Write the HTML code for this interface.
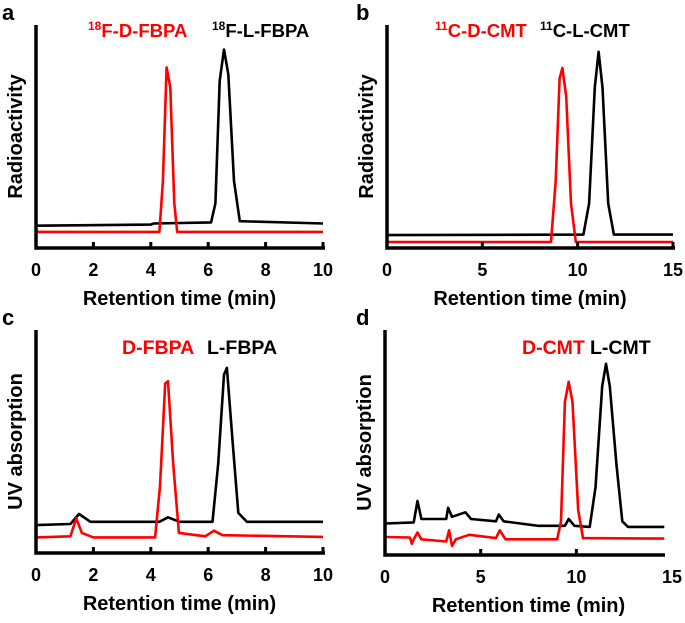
<!DOCTYPE html>
<html><head><meta charset="utf-8"><style>
body{margin:0;background:#fff}
svg text{font-family:"Liberation Sans",Arial,sans-serif;font-weight:bold}
</style></head><body>
<svg id="fig" width="685" height="618" viewBox="0 0 685 618" xmlns="http://www.w3.org/2000/svg"></svg>
<script>
// Panel data: [time(min), signal(arb. 0-100)]
const aBlack=[[0,10],[4,10.5],[4.1,11],[6.1,11.5],[6.25,20],[6.4,75],[6.55,89],[6.7,78],[6.9,30],[7.1,12],[10,11]];
const aRed=[[0,7.2],[4.3,7.2],[4.42,30],[4.55,81],[4.68,72],[4.82,20],[4.92,7.2],[10,7.2]];
const bBlack=[[0,5.8],[10.3,6],[10.6,20],[10.9,72],[11.1,88],[11.3,72],[11.6,20],[11.9,6],[15,6]];
const bRed=[[0,2.7],[8.6,2.7],[8.85,30],[9.05,76],[9.2,80.7],[9.4,68],[9.65,20],[9.9,2.7],[15,2.7]];
const cBlack=[[0,12.5],[1.2,13],[1.5,17.5],[1.9,14],[4.3,14],[4.6,16],[5,14],[6.15,14],[6.35,40],[6.55,80],[6.65,83],[6.85,50],[7.05,18],[7.35,14],[10,14]];
const cRed=[[0,7],[1.2,7.5],[1.4,15.5],[1.6,9],[2,7],[4.15,7],[4.32,30],[4.5,76],[4.6,77],[4.78,40],[4.98,9],[5.9,7.5],[6.2,10],[6.5,8],[10,7.2]];
const dBlack=[[0,14],[1.5,14.5],[1.7,24],[1.9,16],[3.2,16],[3.3,21],[3.5,17],[4.2,19],[4.5,16],[5.8,15],[5.95,18],[6.2,15],[8,13],[9.4,13],[9.6,16],[9.9,13],[10.7,12.5],[11.0,30],[11.35,75],[11.55,85],[11.75,75],[12.1,40],[12.4,15],[12.7,12.5],[14.6,12.5]];
const dRed=[[0,8],[1.3,7.8],[1.4,5],[1.5,7],[1.7,10],[1.9,7],[3.2,6],[3.35,11],[3.5,4],[3.7,7],[4.4,9],[5.8,7.5],[6,11],[6.3,7],[9,7],[9.2,15],[9.4,68],[9.6,77],[9.8,68],[10.1,20],[10.35,7.5],[14.6,7.3]];
const ticksAC=[0,2,4,6,8,10];
const ticksBD=[0,5,10,15];

const svg=document.getElementById('fig');
const NS='http://www.w3.org/2000/svg';
function mk(tag,attrs,parent){const e=document.createElementNS(NS,tag);for(const k in attrs)e.setAttribute(k,attrs[k]);(parent||svg).appendChild(e);return e;}

const panels=[
 {id:'a',x0:36,x1:323,xend:325,top:25,bot:248,xmax:10,ticks:ticksAC,black:aBlack,red:aRed,ytitle:'Radioactivity',redLab:['18','F-D-FBPA'],blackLab:['18','F-L-FBPA'],redX:88,blackX:212,legY:37,letterX:2,fs:18.5},
 {id:'b',x0:387,x1:673,xend:675,top:25,bot:248,xmax:15,ticks:ticksBD,black:bBlack,red:bRed,ytitle:'Radioactivity',redLab:['11','C-D-CMT'],blackLab:['11','C-L-CMT'],redX:435,blackX:540,legY:37,letterX:356,fs:18.5},
 {id:'c',x0:36,x1:323,xend:325,top:330,bot:553,xmax:10,ticks:ticksAC,black:cBlack,red:cRed,ytitle:'UV absorption',redLab:['','D-FBPA'],blackLab:['','L-FBPA'],redX:122,blackX:207,legY:354,letterX:2,fs:19.5},
 {id:'d',x0:385,x1:672,xend:665,top:330,bot:555,xmax:15,ticks:ticksBD,black:dBlack,red:dRed,ytitle:'UV absorption',redLab:['','D-CMT'],blackLab:['','L-CMT'],redX:522,blackX:590,legY:354,letterX:356,fs:19.5}
];

panels.forEach(p=>{
 const g=mk('g',{});
 
 
 const xs=t=>p.x0+t/p.xmax*(p.x1-p.x0);
 const ys=v=>p.bot-v/100*(p.bot-p.top);
 const L=mk('text',{x:p.letterX,y:p.top-5,'font-size':22},g);L.textContent=p.id;
 
 
 [['black','#000',p.black],['red','#ff0000',p.red]].forEach(([nm,col,data])=>{
  const pl=mk('polyline',{points:data.map(d=>xs(d[0]).toFixed(1)+','+ys(d[1]).toFixed(1)).join(' '),fill:'none',stroke:col,'stroke-width':2.6,'stroke-linejoin':'round'},g);
  
  
 });
 const ax=mk('path',{d:`M${p.x0},${p.top} V${p.bot} H${p.xend}`,fill:'none',stroke:'#000','stroke-width':3.5},g);
 
 
 p.ticks.forEach(t=>{
  const x=xs(t);
  if(t>0 && x<=p.xend+1){const tk=mk('line',{x1:x,x2:x,y1:p.bot,y2:p.bot-6,stroke:'#000','stroke-width':3},g);
   
   }
  const tl=mk('text',{x:x,y:p.bot+28,'font-size':18,'text-anchor':'middle'},g);tl.textContent=t;
  
  
 });
 const xt=mk('text',{x:(p.x0+p.x1)/2,y:p.bot+57,'font-size':20,'text-anchor':'middle'},g);xt.textContent='Retention time (min)';
 
 
 const cy=(p.top+p.bot)/2;
 const yt=mk('text',{x:p.x0-14,y:cy,'font-size':20,'text-anchor':'middle',transform:`rotate(-90 ${p.x0-14} ${cy})`},g);yt.textContent=p.ytitle;
 
 
 [[p.redLab,p.redX,'#ff0000','legend-red'],[p.blackLab,p.blackX,'#000','legend-black']].forEach(([lab,x,col,nm])=>{
  const t=mk('text',{x:x,y:p.legY,'font-size':p.fs,fill:col},g);
  
  
  if(lab[0]){const s=mk('tspan',{'font-size':12,dy:-7},t);s.textContent=lab[0];const r=mk('tspan',{dy:7},t);r.textContent=lab[1];}
  else t.textContent=lab[1];
 });
});
</script>
</body></html>
